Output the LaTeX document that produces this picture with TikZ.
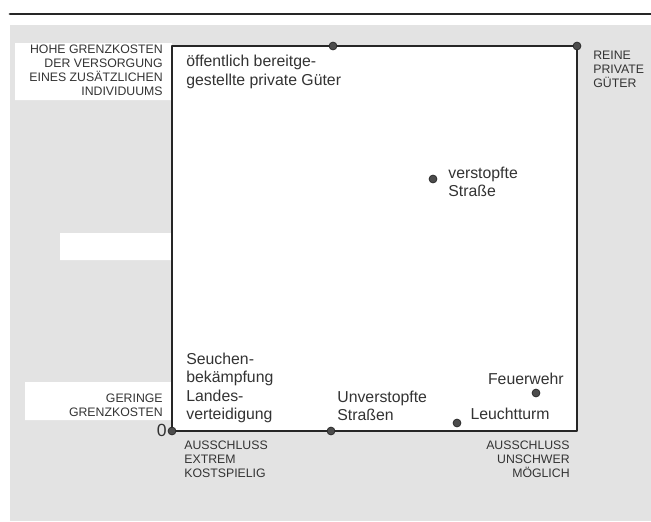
\documentclass[tikz,border=0pt]{standalone}
\usepackage{fontspec}
\setmainfont{Liberation Sans}
\begin{document}
\begin{tikzpicture}[x=0.02cm,y=-0.02cm,line cap=round,line join=round,
    punkt/.style={circle,fill=black!70,draw=black!85,line width=0.4pt,inner sep=0pt,minimum size=4.5pt},
    txt/.style={font=\fontsize{9}{10.4}\selectfont,align=left,inner sep=0pt,text=black!80},
    klein/.style={font=\fontsize{7}{8}\selectfont,inner sep=0pt,text=black!80}]
  \useasboundingbox (0,0) rectangle (651,521);
  % Hintergrund
  \fill[black!11] (10,25) rectangle (651,521);
  \fill[white] (15,43) rectangle (172,100) (60,233) rectangle (172,260) (25,382) rectangle (172,420);
  \draw[line width=1.6pt,black!85] (10,14) -- (651,14);

  \fill[white] (172,46) rectangle (577,431);
  \draw[line width=1.2pt,black!85] (172,46) coordinate (O) -- (577,46) coordinate (R)
        -- (577,431) coordinate (S) -- (172,431) coordinate (N) -- cycle;

  \node[punkt] (p1) at (333,46) {};
  \node[punkt] (p2) at (R) {};
  \node[punkt] (p3) at (N) {};
  \node[punkt] (p4) at (331,431) {};
  \node[punkt] (p5) at (433,179) {};
  \node[punkt] (p6) at (536,393) {};
  \node[punkt] (p7) at (457,423) {};

  \node[txt,anchor=west] (oeff) at (186,72) {öffentlich bereitge-\\gestellte private Güter};
  \node[txt,anchor=west] (verst) at (448,182) {verstopfte\\Straße};
  \node[txt,anchor=west] (seuch) at (186,388) {Seuchen-\\bekämpfung\\Landes-\\verteidigung};
  \node[txt,anchor=west] (unverst) at (337,406) {Unverstopfte\\Straßen};
  \node[txt,anchor=east] (feuer) at (564,379) {Feuerwehr};
  \node[txt,anchor=east] (leucht) at (550,414) {Leuchtturm};
  \node[txt,anchor=east,font=\fontsize{10}{12}\selectfont] (null) at (167,430) {0};

  \node[klein,align=right,anchor=east] (hohe) at (163,70) {HOHE GRENZKOSTEN\\DER VERSORGUNG\\EINES ZUSÄTZLICHEN\\INDIVIDUUMS};
  \node[klein,align=right,anchor=east] (gering) at (163,405) {GERINGE\\GRENZKOSTEN};
  \node[klein,align=left,anchor=west] (reine) at (593,69) {REINE\\PRIVATE\\GÜTER};
  \node[klein,align=left,anchor=west] (aextrem) at (184,459) {AUSSCHLUSS\\EXTREM\\KOSTSPIELIG};
  \node[klein,align=right,anchor=east] (aleicht) at (570,459) {AUSSCHLUSS\\UNSCHWER\\MÖGLICH};
\end{tikzpicture}
\end{document}
